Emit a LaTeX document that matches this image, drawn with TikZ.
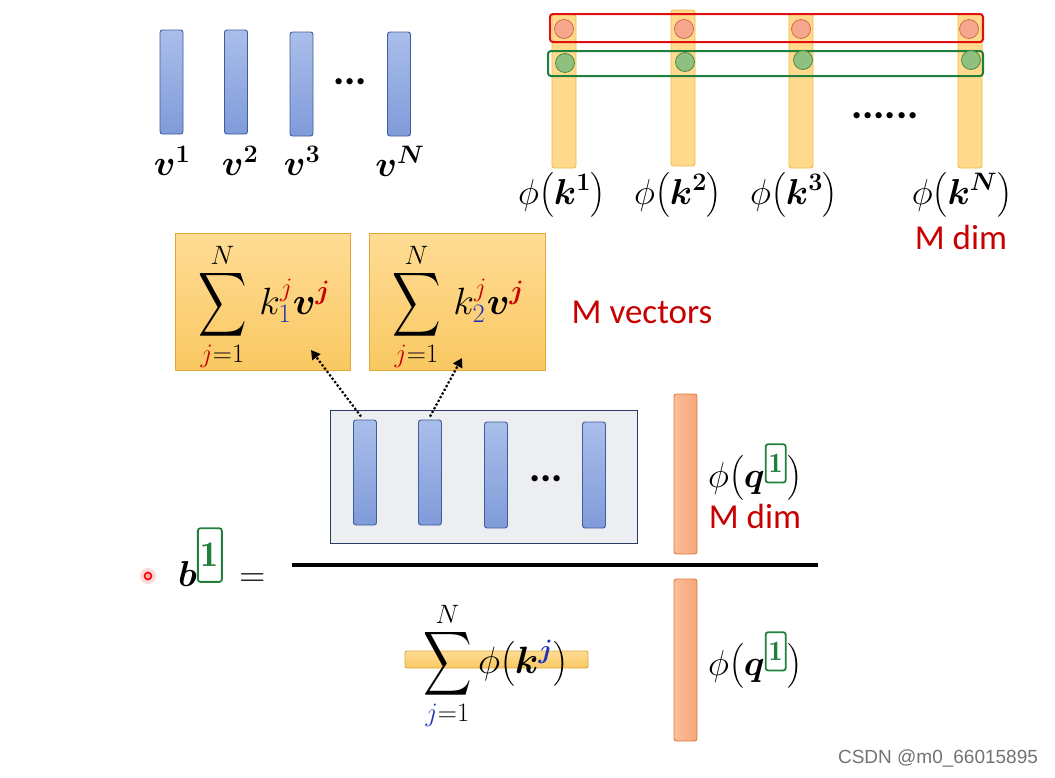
\RequirePackage{fix-cm}
\documentclass[tikz,border=0pt]{standalone}
\usepackage{amsmath}
\usepackage{bm}
\usepackage{graphicx}
\usepackage{fontspec}
\newfontfamily\carl{Carlito}
\newfontfamily\wmfont{Liberation Sans}
\usetikzlibrary{arrows.meta}
\definecolor{vfillA}{HTML}{AABEEA}
\definecolor{vfillB}{HTML}{7F9BD9}
\definecolor{vdraw}{HTML}{3F5C9E}
\definecolor{phifill}{HTML}{FFD98C}
\definecolor{phidraw}{HTML}{F0BA48}
\definecolor{sboxA}{HTML}{FFDC95}
\definecolor{sboxB}{HTML}{F9C862}
\definecolor{sboxdraw}{HTML}{E0A83A}
\definecolor{qfillA}{HTML}{FBBE98}
\definecolor{qfillB}{HTML}{F6A77C}
\definecolor{qdraw}{HTML}{DC7A3C}
\definecolor{redbox}{HTML}{E01010}
\definecolor{greenbox}{HTML}{1F7F3C}
\definecolor{redcfill}{HTML}{F6A88F}
\definecolor{redcdraw}{HTML}{D46A4A}
\definecolor{grcfill}{HTML}{8FC07F}
\definecolor{grcdraw}{HTML}{4E8A3F}
\definecolor{mred}{HTML}{C80000}
\definecolor{mblue}{HTML}{1A33B8}
\definecolor{bigfill}{HTML}{EDEEF1}
\definecolor{bigdraw}{HTML}{2C3A66}
\newcommand\gbx[3]{\tikz[baseline=(gq.base)]\node[draw=greenbox,line width=1.8pt,rounded corners=2.5pt,inner xsep=#2,inner ysep=#3,text=greenbox](gq){\fontsize{#1}{#1}\selectfont$\mathbf{1}$};}
\newcommand\bsum{\mathop{\vcenter{\hbox{\scalebox{1.35}[1.8]{$\displaystyle\sum$}}}}\limits}
\newcommand\rj{\textcolor{mred}{j}}
\newcommand\rbj{\textcolor{mred}{\bm{j}}}
\newcommand\bj{\textcolor{mblue}{j}}
\begin{document}
\begin{tikzpicture}[x=1pt,y=-1pt,
  vbar/.style={draw=vdraw,line width=0.9pt,rounded corners=2.5pt,top color=vfillA,bottom color=vfillB,minimum width=23pt,inner sep=0pt},
  phibar/.style={draw=phidraw,line width=0.9pt,rounded corners=2.5pt,fill=phifill,minimum width=24pt,inner sep=0pt},
  qbar/.style={draw=qdraw,line width=0.9pt,rounded corners=2.5pt,left color=qfillA,right color=qfillB,minimum width=23pt,inner sep=0pt},
  rowbox/.style={line width=2pt,rounded corners=3pt,inner sep=0pt},
  rc/.style={circle,draw=redcdraw,fill=redcfill,line width=0.8pt,minimum size=19pt,inner sep=0pt},
  gc/.style={circle,draw=grcdraw,fill=grcfill,line width=0.8pt,minimum size=19pt,inner sep=0pt},
  sbox/.style={draw=sboxdraw,line width=1pt,top color=sboxA,bottom color=sboxB,minimum width=175pt,minimum height=137pt,inner sep=0pt},
  mlab/.style={font=\fontsize{36}{42}\selectfont,inner sep=0pt},
  slab/.style={font=\fontsize{38}{44}\selectfont,inner sep=0pt},
  rtext/.style={font=\carl\fontsize{35}{40}\selectfont,text=mred,inner sep=0pt},
  dots/.style={font=\carl\bfseries\fontsize{42}{42}\selectfont,inner sep=0pt},
  dotarrow/.style={line width=2.2pt,dotted,-{Triangle[width=10pt,length=9pt]}}
]
\useasboundingbox (0,0) rectangle (1055,777);
\fill[white] (0,0) rectangle (1055,777);
% v vectors
\node[vbar,minimum height=104pt] (v1) at (171.5,82) {};
\node[vbar,minimum height=104pt] (v2) at (236,82) {};
\node[vbar,minimum height=104pt] (v3) at (301.5,84) {};
\node[vbar,minimum height=104pt] (vN) at (399,84) {};
\node[dots] (vd) at (350,82) {...};
\node[mlab] (lv1) at (172,161) {$\bm{v}^{\bm{1}}$};
\node[mlab] (lv2) at (240,161) {$\bm{v}^{\bm{2}}$};
\node[mlab] (lv3) at (302,161) {$\bm{v}^{\bm{3}}$};
\node[mlab] (lvN) at (400,161) {$\bm{v}^{\bm{N}}$};
% phi(k) vectors
\node[phibar,minimum height=154pt] (k1) at (564,91) {};
\node[phibar,minimum height=156pt] (k2) at (683,88) {};
\node[phibar,minimum height=154pt] (k3) at (801,91) {};
\node[phibar,minimum height=154pt] (kN) at (970,91) {};
\node[rowbox,draw=redbox,minimum width=433pt,minimum height=28pt] (rrow) at (766.5,28) {};
\node[rowbox,draw=greenbox,minimum width=435pt,minimum height=25pt] (grow) at (765.5,63.5) {};
\node[rc] (r1) at (564,29) {};
\node[rc] (r2) at (684,29) {};
\node[rc] (r3) at (801,29) {};
\node[rc] (r4) at (969,29) {};
\node[gc] (g1) at (565,63) {};
\node[gc] (g2) at (685,62) {};
\node[gc] (g3) at (803,60) {};
\node[gc] (g4) at (971,60) {};
\node[dots] (kd) at (885,116) {......};
\node[mlab] (lk1) at (562,195) {$\phi\bigl(\bm{k}^{\bm{1}}\bigr)$};
\node[mlab] (lk2) at (678,195) {$\phi\bigl(\bm{k}^{\bm{2}}\bigr)$};
\node[mlab] (lk3) at (794,195) {$\phi\bigl(\bm{k}^{\bm{3}}\bigr)$};
\node[mlab] (lkN) at (962,195) {$\phi\bigl(\bm{k}^{\bm{N}}\bigr)$};
\node[rtext] (md1) at (961,237) {M dim};
% weighted sums
\node[sbox] (s1) at (262.5,301.5) {};
\node[sbox,minimum width=176pt] (s2) at (457,301.5) {};
\node[slab,anchor=west] (s1t) at (198,307) {$\displaystyle\bsum_{\rj=1}^{N}\,k_{\textcolor{mblue}{1}}^{\rj}\bm{v}^{\rbj}$};
\node[slab,anchor=west] (s2t) at (392,307) {$\displaystyle\bsum_{\rj=1}^{N}\,k_{\textcolor{mblue}{2}}^{\rj}\bm{v}^{\rbj}$};
\node[rtext] (mv) at (642,312) {M vectors};
% big box of v vectors
\node[draw=bigdraw,fill=bigfill,line width=1pt,minimum width=307pt,minimum height=133pt,inner sep=0pt] (big) at (483.5,476.5) {};
\node[vbar,minimum height=105pt] (b1) at (365,472.5) {};
\node[vbar,minimum height=105pt] (b2) at (430,472.5) {};
\node[vbar,minimum height=106pt] (b3) at (496,475) {};
\node[vbar,minimum height=106pt] (b4) at (594,475) {};
\node[dots] (bd) at (546,479) {...};
\coordinate (a1) at (311,350);
\coordinate (a2) at (462,358);
\draw[dotarrow] (b1.north) ++(-4,-3) -- (a1);
\draw[dotarrow] (b2.north) ++(0,-3) -- (a2);
% q vectors
\node[qbar,minimum height=160pt] (q1) at (685.5,474) {};
\node[qbar,minimum height=162pt] (q2) at (685.5,660) {};
\node[mlab,anchor=west] (lq1) at (708,472) {$\phi\bigl(\bm{q}^{\gbx{28pt}{3pt}{10pt}}\bigr)$};
\node[rtext] (md2) at (755,516) {M dim};
\node[mlab,anchor=west] (lq2) at (708,660) {$\phi\bigl(\bm{q}^{\gbx{28pt}{3pt}{10pt}}\bigr)$};
% fraction
\draw[line width=3.5pt] (292,565) -- (818,565);
\node[mlab,anchor=west] (bl) at (178,557) {$\bm{b}^{\gbx{36pt}{3pt}{15pt}}\,=$};
% denominator sum
\node[draw=sboxdraw,line width=0.9pt,rounded corners=2pt,top color=sboxA,bottom color=sboxB,minimum width=183pt,minimum height=17pt,inner sep=0pt] (dbar) at (496.5,659.5) {};
\node[slab,anchor=west] (dsum) at (423,666) {$\displaystyle\bsum_{\bj=1}^{N}\phi\bigl(\bm{k}^{\textcolor{mblue}{\bm{j}}}\bigr)$};
% pointer dot
\fill[red!15] (148,576) circle (8);
\draw[red,line width=1.6pt,fill=red!30] (148,576) circle (3.5);
% watermark
\node[font=\wmfont\fontsize{19}{22}\selectfont,text=black!55,inner sep=0pt] (wm) at (938,758) {CSDN @m0\_66015895};
\end{tikzpicture}
\end{document}
